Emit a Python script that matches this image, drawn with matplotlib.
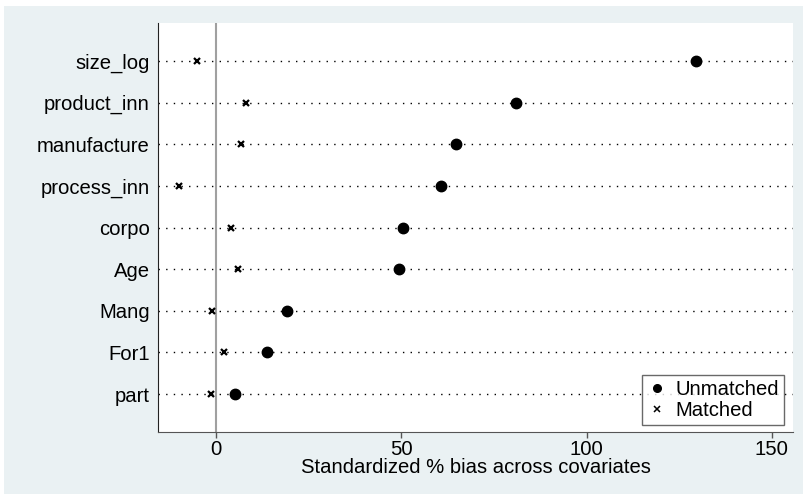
import matplotlib
matplotlib.use("Agg")
import matplotlib.pyplot as plt
from matplotlib.patches import Rectangle

plt.rcParams["font.family"] = ["Liberation Sans", "DejaVu Sans"]

covariates = ["size_log", "product_inn", "manufacture", "process_inn", "corpo",
              "Age", "Mang", "For1", "part"]
unmatched = [129.6, 80.8, 64.7, 60.8, 50.4, 49.4, 19.2, 13.8, 5.2]
matched = [-5.2, 8.0, 6.7, -10.0, 4.1, 5.9, -1.1, 2.0, -1.4]
xticks = [0, 50, 100, 150]

bg = "#eaf1f3"
fs = 14.6
fig = plt.figure(figsize=(8.04, 4.94), dpi=100, facecolor="white")
fig.patches.append(Rectangle((4 / 804, 0), 1, 1 - 6 / 494, transform=fig.transFigure,
                             facecolor=bg, edgecolor="none", zorder=-10))
ax = fig.add_axes([158 / 804, 1 - 432 / 494, 635 / 804, 409 / 494])
ax.set_facecolor("white")

ypos = list(range(len(covariates), 0, -1))
for y in ypos:
    ax.axhline(y, color="black", linestyle=(0, (1, 4.5)), linewidth=1.0, zorder=1)
ax.axvline(0, color="#a0a0a0", linewidth=1.5, zorder=1)

ax.plot(unmatched, ypos, "o", color="black", markersize=7.5, linestyle="none",
        label="Unmatched", zorder=3)
ax.plot(matched, ypos, "x", color="black", markersize=4.5, markeredgewidth=1.6,
        linestyle="none", label="Matched", zorder=3)

ax.set_xlim(-15.7, 155.7)
ax.set_ylim(0.09, 9.91)
ax.set_xticks(xticks)
ax.set_yticks(ypos)
ax.set_yticklabels(covariates)
ax.tick_params(axis="x", length=4, width=1, color="#555555", labelsize=fs, pad=2)
ax.tick_params(axis="y", length=0, labelsize=fs, pad=6)
ax.set_xlabel("Standardized % bias across covariates", fontsize=fs, labelpad=-1)

for side in ["top", "right"]:
    ax.spines[side].set_visible(False)
ax.spines["left"].set_color("#222222")
ax.spines["bottom"].set_color("#555555")

leg = ax.legend(loc="lower right", bbox_to_anchor=(0.986, 0.017), fontsize=fs,
                frameon=True, fancybox=False, handletextpad=0.4, borderpad=0.25,
                labelspacing=0.1, handlelength=1.0, borderaxespad=0)
leg.get_frame().set_edgecolor("#444444")
leg.get_frame().set_linewidth(1.0)
leg.legend_handles[0].set_markersize(5.5)
leg.legend_handles[1].set_markersize(4.5)
leg.legend_handles[1].set_markeredgewidth(1.1)

fig.savefig("out.png", dpi=100, facecolor=fig.get_facecolor())
